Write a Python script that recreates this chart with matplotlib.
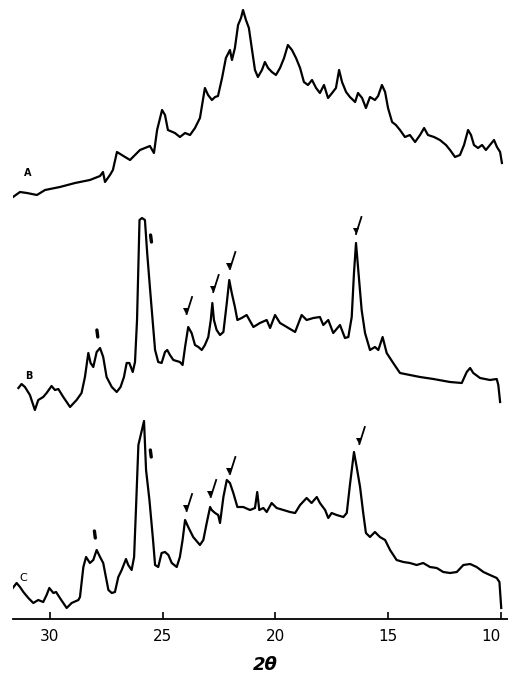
import numpy as np
import matplotlib
matplotlib.use("Agg")
import matplotlib.pyplot as plt

# X-ray diffraction traces, 2theta (deg) vs. intensity (arbitrary units)
# each trace is stored relative to its own baseline offset
OFFSETS = {"A": 400, "B": 200, "C": 0}

a_theta = [31.64, 31.33, 31.02, 30.58, 30.22, 29.56, 28.89, 28.23, 27.78, 27.65, 27.56, 27.34,
           27.21, 27.03, 26.67, 26.45, 26.23, 26.01, 25.79, 25.57, 25.39, 25.25, 25.03, 24.90,
           24.77, 24.46, 24.24, 24.01, 23.79, 23.57, 23.35, 23.13, 22.99, 22.82, 22.68, 22.55,
           22.37, 22.20, 22.02, 21.93, 21.80, 21.66, 21.53, 21.44, 21.31, 21.18, 21.04, 20.91,
           20.78, 20.60, 20.47, 20.33, 20.16, 19.98, 19.80, 19.62, 19.45, 19.27, 19.09, 18.91,
           18.74, 18.56, 18.38, 18.20, 18.03, 17.85, 17.67, 17.49, 17.32, 17.18, 17.05, 16.87,
           16.70, 16.47, 16.34, 16.16, 15.99, 15.81, 15.59, 15.45, 15.28, 15.14, 15.01, 14.83,
           14.66, 14.48, 14.26, 14.04, 13.81, 13.59, 13.41, 13.24, 12.97, 12.71, 12.44, 12.26,
           12.04, 11.82, 11.64, 11.46, 11.33, 11.20, 11.02, 10.84, 10.67, 10.49, 10.31, 10.18,
           10.04, 9.96]
a_int = [22, 27, 26, 24, 29, 32, 36, 39, 43, 47, 37, 44,
         49, 67, 62, 59, 64, 69, 71, 73, 66, 89, 109, 104,
         89, 86, 82, 86, 84, 91, 101, 131, 124, 119, 122, 123,
         141, 161, 169, 159, 171, 194, 201, 209, 199, 191, 169, 149,
         142, 149, 157, 151, 147, 144, 151, 161, 174, 169, 161, 151,
         137, 134, 139, 131, 126, 134, 121, 126, 131, 149, 137, 127,
         122, 117, 126, 121, 111, 122, 119, 123, 134, 127, 111, 97,
         94, 89, 82, 84, 77, 84, 91, 84, 82, 79, 74, 69,
         62, 64, 74, 89, 84, 74, 71, 74, 69, 74, 79, 72,
         67, 56]

b_theta = [31.40, 31.26, 31.11, 30.89, 30.67, 30.52, 30.30, 30.15, 29.93, 29.78, 29.63, 29.41,
           29.11, 28.82, 28.60, 28.45, 28.30, 28.20, 28.08, 27.93, 27.78, 27.64, 27.49, 27.26,
           27.04, 26.87, 26.72, 26.60, 26.48, 26.33, 26.23, 26.14, 26.03, 25.92, 25.79, 25.69,
           25.57, 25.45, 25.34, 25.20, 25.05, 24.90, 24.80, 24.68, 24.53, 24.24, 24.12, 24.01,
           23.87, 23.72, 23.57, 23.42, 23.27, 23.13, 22.98, 22.87, 22.80, 22.73, 22.61, 22.46,
           22.31, 22.16, 22.05, 21.94, 21.80, 21.69, 21.50, 21.28, 20.98, 20.69, 20.39, 20.24,
           20.02, 19.80, 19.50, 19.13, 18.84, 18.62, 18.32, 18.03, 17.88, 17.66, 17.44, 17.14,
           16.92, 16.77, 16.62, 16.52, 16.43, 16.33, 16.18, 16.03, 15.81, 15.59, 15.44, 15.25,
           15.07, 14.78, 14.48, 14.04, 13.59, 13.00, 12.26, 11.74, 11.52, 11.37, 11.23, 10.93,
           10.49, 10.19, 10.12, 10.04]
b_int = [31, 35, 32, 24, 9, 19, 22, 26, 33, 29, 30, 22,
         12, 19, 26, 42, 66, 56, 52, 67, 71, 62, 42, 32,
         27, 32, 42, 56, 56, 47, 57, 99, 199, 201, 199, 166,
         132, 99, 69, 57, 56, 67, 69, 64, 59, 57, 54, 72,
         92, 86, 74, 72, 69, 74, 82, 99, 116, 99, 89, 84,
         87, 116, 139, 126, 112, 99, 101, 104, 92, 96, 99, 91,
         104, 96, 92, 87, 104, 99, 101, 102, 94, 99, 86, 94,
         81, 82, 102, 146, 176, 149, 109, 86, 69, 72, 69, 82,
         66, 56, 46, 44, 42, 40, 37, 36, 47, 51, 46, 41,
         39, 40, 34, 17]

c_theta = [31.65, 31.48, 31.33, 31.18, 30.96, 30.74, 30.52, 30.30, 30.15, 30.03, 29.85, 29.73,
           29.56, 29.26, 29.04, 28.74, 28.67, 28.52, 28.40, 28.23, 28.08, 27.93, 27.78, 27.64,
           27.41, 27.26, 27.12, 26.97, 26.82, 26.63, 26.53, 26.38, 26.27, 26.18, 26.08, 25.83,
           25.74, 25.59, 25.43, 25.34, 25.20, 25.05, 24.90, 24.75, 24.60, 24.38, 24.24, 24.12,
           24.01, 23.87, 23.65, 23.35, 23.20, 23.05, 22.90, 22.83, 22.68, 22.54, 22.46, 22.31,
           22.16, 22.02, 21.87, 21.69, 21.43, 21.13, 20.91, 20.81, 20.72, 20.54, 20.39, 20.17,
           19.95, 19.65, 19.36, 19.13, 18.91, 18.62, 18.40, 18.17, 18.03, 17.80, 17.66, 17.51,
           17.29, 16.99, 16.84, 16.70, 16.52, 16.40, 16.25, 16.11, 15.99, 15.81, 15.59, 15.37,
           15.14, 14.92, 14.63, 14.33, 14.04, 13.74, 13.45, 13.15, 12.85, 12.56, 12.26, 11.96,
           11.67, 11.37, 11.08, 10.78, 10.49, 10.19, 10.07, 9.99]
c_int = [31, 36, 32, 27, 21, 16, 19, 17, 24, 31, 26, 27,
         21, 11, 16, 19, 22, 52, 62, 56, 59, 69, 62, 56,
         29, 26, 27, 42, 49, 60, 54, 49, 62, 114, 174, 198,
         149, 119, 79, 54, 52, 66, 67, 64, 56, 52, 62, 79,
         99, 92, 82, 74, 79, 96, 112, 109, 106, 104, 96, 122,
         139, 136, 126, 112, 112, 109, 111, 127, 109, 111, 107, 116,
         111, 109, 107, 106, 114, 121, 116, 122, 116, 109, 101, 106,
         104, 102, 106, 134, 167, 152, 132, 106, 86, 82, 87, 82,
         79, 69, 59, 57, 56, 54, 56, 52, 51, 47, 46, 47,
         54, 55, 52, 47, 44, 41, 37, 11]

# peak markers (2theta, height above own baseline); "dot" = small tick only
b_marks = [(27.86, 82, "dot"), (25.48, 177, "dot"), (23.94, 104, "check"),
           (22.76, 126, "check"), (22.02, 149, "check"), (16.43, 184, "check")]
c_marks = [(27.97, 81, "dot"), (25.49, 162, "dot"), (23.94, 107, "check"),
           (22.87, 121, "check"), (22.02, 144, "check"), (16.28, 174, "check")]


def draw_mark(ax, theta, h, kind):
    if kind == "dot":
        ax.plot([theta + 0.02, theta + 0.06], [h, h + 7], color="black", lw=2.4,
                solid_capstyle="round")
    else:
        # small solid arrowhead with a tail to the upper right
        ax.plot([theta + 0.02], [h + 4], marker="v", ms=5, color="black", mew=0)
        ax.plot([theta, theta - 0.24], [h + 1, h + 18], color="black", lw=1.3)


fig = plt.figure(figsize=(5.08, 6.75), dpi=100)
ax = fig.add_axes([13 / 508, 1 - 619 / 675, 495 / 508, 619 / 675])

for name, th, inten in [("A", a_theta, a_int), ("B", b_theta, b_int), ("C", c_theta, c_int)]:
    ax.plot(th, np.array(inten) + OFFSETS[name], color="black", lw=1.6)

for th, h, kind in b_marks:
    draw_mark(ax, th, h + OFFSETS["B"], kind)
for th, h, kind in c_marks:
    draw_mark(ax, th, h + OFFSETS["C"], kind)

ax.text(30.98, 446, "A", fontsize=7, fontweight="bold", ha="center", va="center")
ax.text(30.93, 243, "B", fontsize=7, fontweight="bold", ha="center", va="center")
ax.text(31.20, 41, "C", fontsize=8, ha="center", va="center")

ax.set_xlim(31.64, 9.69)
ax.set_ylim(0, 619)
for s in ["top", "left", "right"]:
    ax.spines[s].set_visible(False)
ax.spines["bottom"].set_linewidth(1.3)
ax.set_yticks([])
ax.set_xticks([30, 25, 20, 15, 10])
ax.tick_params(axis="x", direction="in", length=5, width=1.2, pad=7, labelsize=11)
# keep the "10" inside the figure edge
ax.get_xticklabels()[-1].set_horizontalalignment("right")

fig.text(265 / 508, 1 - 665 / 675, "2θ", fontsize=13, style="italic", fontweight="bold",
         ha="center", va="center")

fig.savefig("out.png", dpi=100)
